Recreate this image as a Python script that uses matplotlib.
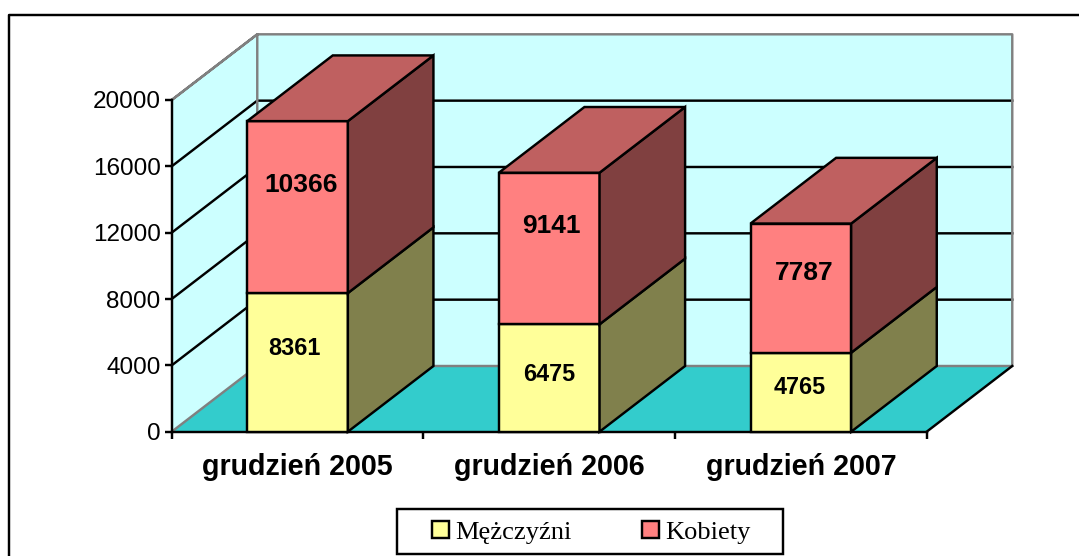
import numpy as np
import matplotlib
matplotlib.use("Agg")
import matplotlib.pyplot as plt
from matplotlib.patches import Polygon, Patch, Rectangle
from matplotlib.lines import Line2D

# --- data ---
categories = ["grudzień 2005", "grudzień 2006", "grudzień 2007"]
men = [8361, 6475, 4765]
women = [10366, 9141, 7787]
series_names = ["Mężczyźni", "Kobiety"]
y_ticks = [0, 4000, 8000, 12000, 16000, 20000]

# --- style ---
W, H = 1079, 556
BLACK = "#000000"
GRAY = "#808080"
WALL = "#CCFFFF"
FLOOR = "#33CCCC"
FACE = {"m": "#FFFF99", "k": "#FF8080"}
SIDE = {"m": "#80804C", "k": "#804040"}
TOP = "#BF6060"
LW = 1.75
DEPTH_X = 0.34      # oblique depth, in category units
DEPTH_Y = 3961      # oblique depth, in value units
BAR_W = 0.4
# manual label nudges (px) as in the reference chart
men_nudge = [(-3, 14), (0, 4), (-1, 5)]
women_nudge = [(4, 22), (2, 23), (3, 15)]

plt.rcParams["font.family"] = ["Liberation Sans", "DejaVu Sans"]
fig = plt.figure(figsize=(W / 100, H / 100), dpi=100, facecolor="white")
ax = fig.add_axes([171.7 / W, (H - 431.7) / H, 755 / W, 331.7 / H])
ax.set_xlim(0, 3)
ax.set_ylim(0, 20000)
ax.patch.set_visible(False)


def poly(pts, face, edge=BLACK, lw=LW, z=1):
    ax.add_patch(Polygon(pts, closed=True, facecolor=face, edgecolor=edge,
                         linewidth=lw, clip_on=False, zorder=z, joinstyle="miter"))


def line(xs, ys, color=BLACK, z=1.5):
    ax.add_line(Line2D(xs, ys, color=color, lw=LW, clip_on=False, zorder=z,
                       solid_capstyle="projecting"))


top = y_ticks[-1]
# walls
poly([(DEPTH_X, DEPTH_Y), (3 + DEPTH_X, DEPTH_Y), (3 + DEPTH_X, top + DEPTH_Y), (DEPTH_X, top + DEPTH_Y)],
     WALL, edge="none")
poly([(0, 0), (DEPTH_X, DEPTH_Y), (DEPTH_X, top + DEPTH_Y), (0, top)], WALL, edge="none")
# floor
poly([(0, 0), (3, 0), (3 + DEPTH_X, DEPTH_Y), (DEPTH_X, DEPTH_Y)], FLOOR, edge="none")
# gridlines
for v in y_ticks[1:-1]:
    line([0, DEPTH_X, 3 + DEPTH_X], [v, v + DEPTH_Y, v + DEPTH_Y], z=1.4)
# wall borders
line([0, DEPTH_X, 3 + DEPTH_X, 3 + DEPTH_X, DEPTH_X, DEPTH_X, 0],
     [top, top + DEPTH_Y, top + DEPTH_Y, DEPTH_Y, DEPTH_Y, top + DEPTH_Y, top], color=GRAY)
line([0, DEPTH_X], [0, DEPTH_Y], color=GRAY)
line([3, 3 + DEPTH_X], [0, DEPTH_Y], color=BLACK)

# bars
for i, (m, k) in enumerate(zip(men, women)):
    x0 = i + 0.5 - BAR_W / 2
    x1 = x0 + BAR_W
    z = 3 + i
    base = 0
    for key, val in (("m", m), ("k", k)):
        t = base + val
        poly([(x0, base), (x1, base), (x1, t), (x0, t)], FACE[key], z=z)
        poly([(x1, base), (x1 + DEPTH_X, base + DEPTH_Y), (x1 + DEPTH_X, t + DEPTH_Y), (x1, t)],
             SIDE[key], z=z)
        base = t
    poly([(x0, base), (x1, base), (x1 + DEPTH_X, base + DEPTH_Y), (x0 + DEPTH_X, base + DEPTH_Y)], TOP, z=z)

    nx, ny = men_nudge[i]
    ax.annotate(f"{m}", (i + 0.5, m / 2), xytext=(nx * 0.72, ny * 0.72), textcoords="offset points",
                ha="center", va="center", fontsize=16.8, fontweight="bold", zorder=20)
    nx, ny = women_nudge[i]
    ax.annotate(f"{k}", (i + 0.5, m + k / 2), xytext=(nx * 0.72, ny * 0.72), textcoords="offset points",
                ha="center", va="center", fontsize=19, fontweight="bold", zorder=20)

# axes
for s in ("top", "right"):
    ax.spines[s].set_visible(False)
for s in ("left", "bottom"):
    ax.spines[s].set_linewidth(LW)
    ax.spines[s].set_zorder(2.5)
ax.set_yticks(y_ticks)
ax.set_yticklabels([str(v) for v in y_ticks], fontsize=17.5)
ax.tick_params(axis="y", length=5, width=LW, pad=3)
ax.set_xticks(range(4))
ax.set_xticklabels([])
ax.set_xticks(np.arange(len(categories)) + 0.5, minor=True)
ax.set_xticklabels(categories, minor=True, fontsize=20.6, fontweight="bold")
ax.tick_params(axis="x", which="major", length=5, width=LW)
ax.tick_params(axis="x", which="minor", length=0, pad=15)

# outer frame (open at right and bottom in the reference)
fig.add_artist(Line2D([9 / W, 9 / W, 1], [0, 1 - 14.5 / H, 1 - 14.5 / H], color=BLACK, lw=LW,
                      transform=fig.transFigure))

# legend
fig.add_artist(Rectangle((397 / W, 1 - 554 / H), 386 / W, 45 / H, transform=fig.transFigure,
                         facecolor="white", edgecolor=BLACK, linewidth=LW))
handles = [Patch(facecolor=FACE["m"], edgecolor=BLACK, linewidth=LW),
           Patch(facecolor=FACE["k"], edgecolor=BLACK, linewidth=LW)]
fig.legend(handles, series_names, loc="center", bbox_to_anchor=(591.5 / W, 1 - 532.5 / H), ncol=2,
           frameon=False, prop={"family": "Liberation Serif", "size": 19},
           handlelength=0.63, handleheight=0.63, handletextpad=0.25, columnspacing=2.65,
           borderpad=0, borderaxespad=0)

fig.savefig("out.png", dpi=100)
